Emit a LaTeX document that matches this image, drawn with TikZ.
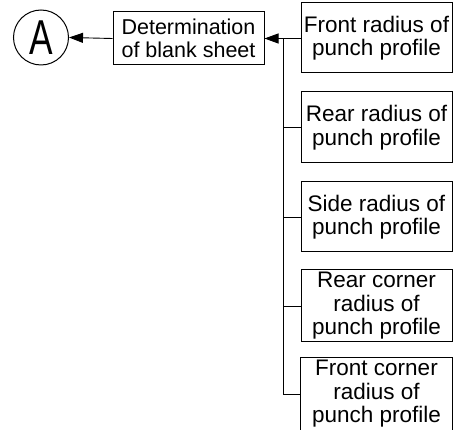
\documentclass[tikz,border=0pt]{standalone}
\usepackage{fontspec}
\setmainfont{Liberation Sans}
\usetikzlibrary{arrows.meta}
\begin{document}
\begin{tikzpicture}[x=1pt,y=-1pt,line width=1pt,
  box/.style={draw,rectangle,inner sep=0pt,align=center,
    font=\fontsize{21.5}{23.5}\selectfont},
  rbox/.style={box,minimum width=151pt,minimum height=70pt,
    font=\fontsize{22.5}{23.5}\selectfont},
  conn/.style={line width=0.9pt},
  arr/.style={conn,-{Triangle[length=14pt,width=10pt]}}]
\useasboundingbox (0,0) rectangle (453,430);
\node[circle,draw,minimum size=55pt,inner sep=0pt,font=\fontsize{49}{49}\selectfont] (A) at (41,37.5) {\scalebox{0.72}[1]{A}};
\node[box,minimum width=151pt,minimum height=53pt] (det) at (188.5,38.5) {Determination\\of blank sheet};
\node[rbox] (b1) at (376.5,38) {Front radius of\\punch profile};
\node[rbox,minimum height=71pt] (b2) at (376.5,127.5) {Rear radius of\\punch profile};
\node[rbox] (b3) at (376.5,217) {Side radius of\\punch profile};
\node[rbox,minimum height=72pt] (b4) at (376.5,306) {Rear corner\\radius of\\punch profile};
\node[rbox,draw=none,minimum height=71pt] (b5) at (376.5,394) {Front corner\\radius of\\punch profile};
\draw (b5.south west) -- (b5.north west) -- (b5.north east) -- (b5.south east);
\coordinate (j) at (283,38.5);
\draw[arr] (det.west) -- (A.east);
\draw[arr] (j) -- (det.east);
\draw[conn] (b1.west) -- (b1.west -| j);
\draw[conn] (j) -- (b5.west -| j) -- (b5.west);
\draw[conn] (b2.west -| j) -- (b2.west);
\draw[conn] (b3.west -| j) -- (b3.west);
\draw[conn] (b4.west -| j) -- (b4.west);
\end{tikzpicture}
\end{document}
